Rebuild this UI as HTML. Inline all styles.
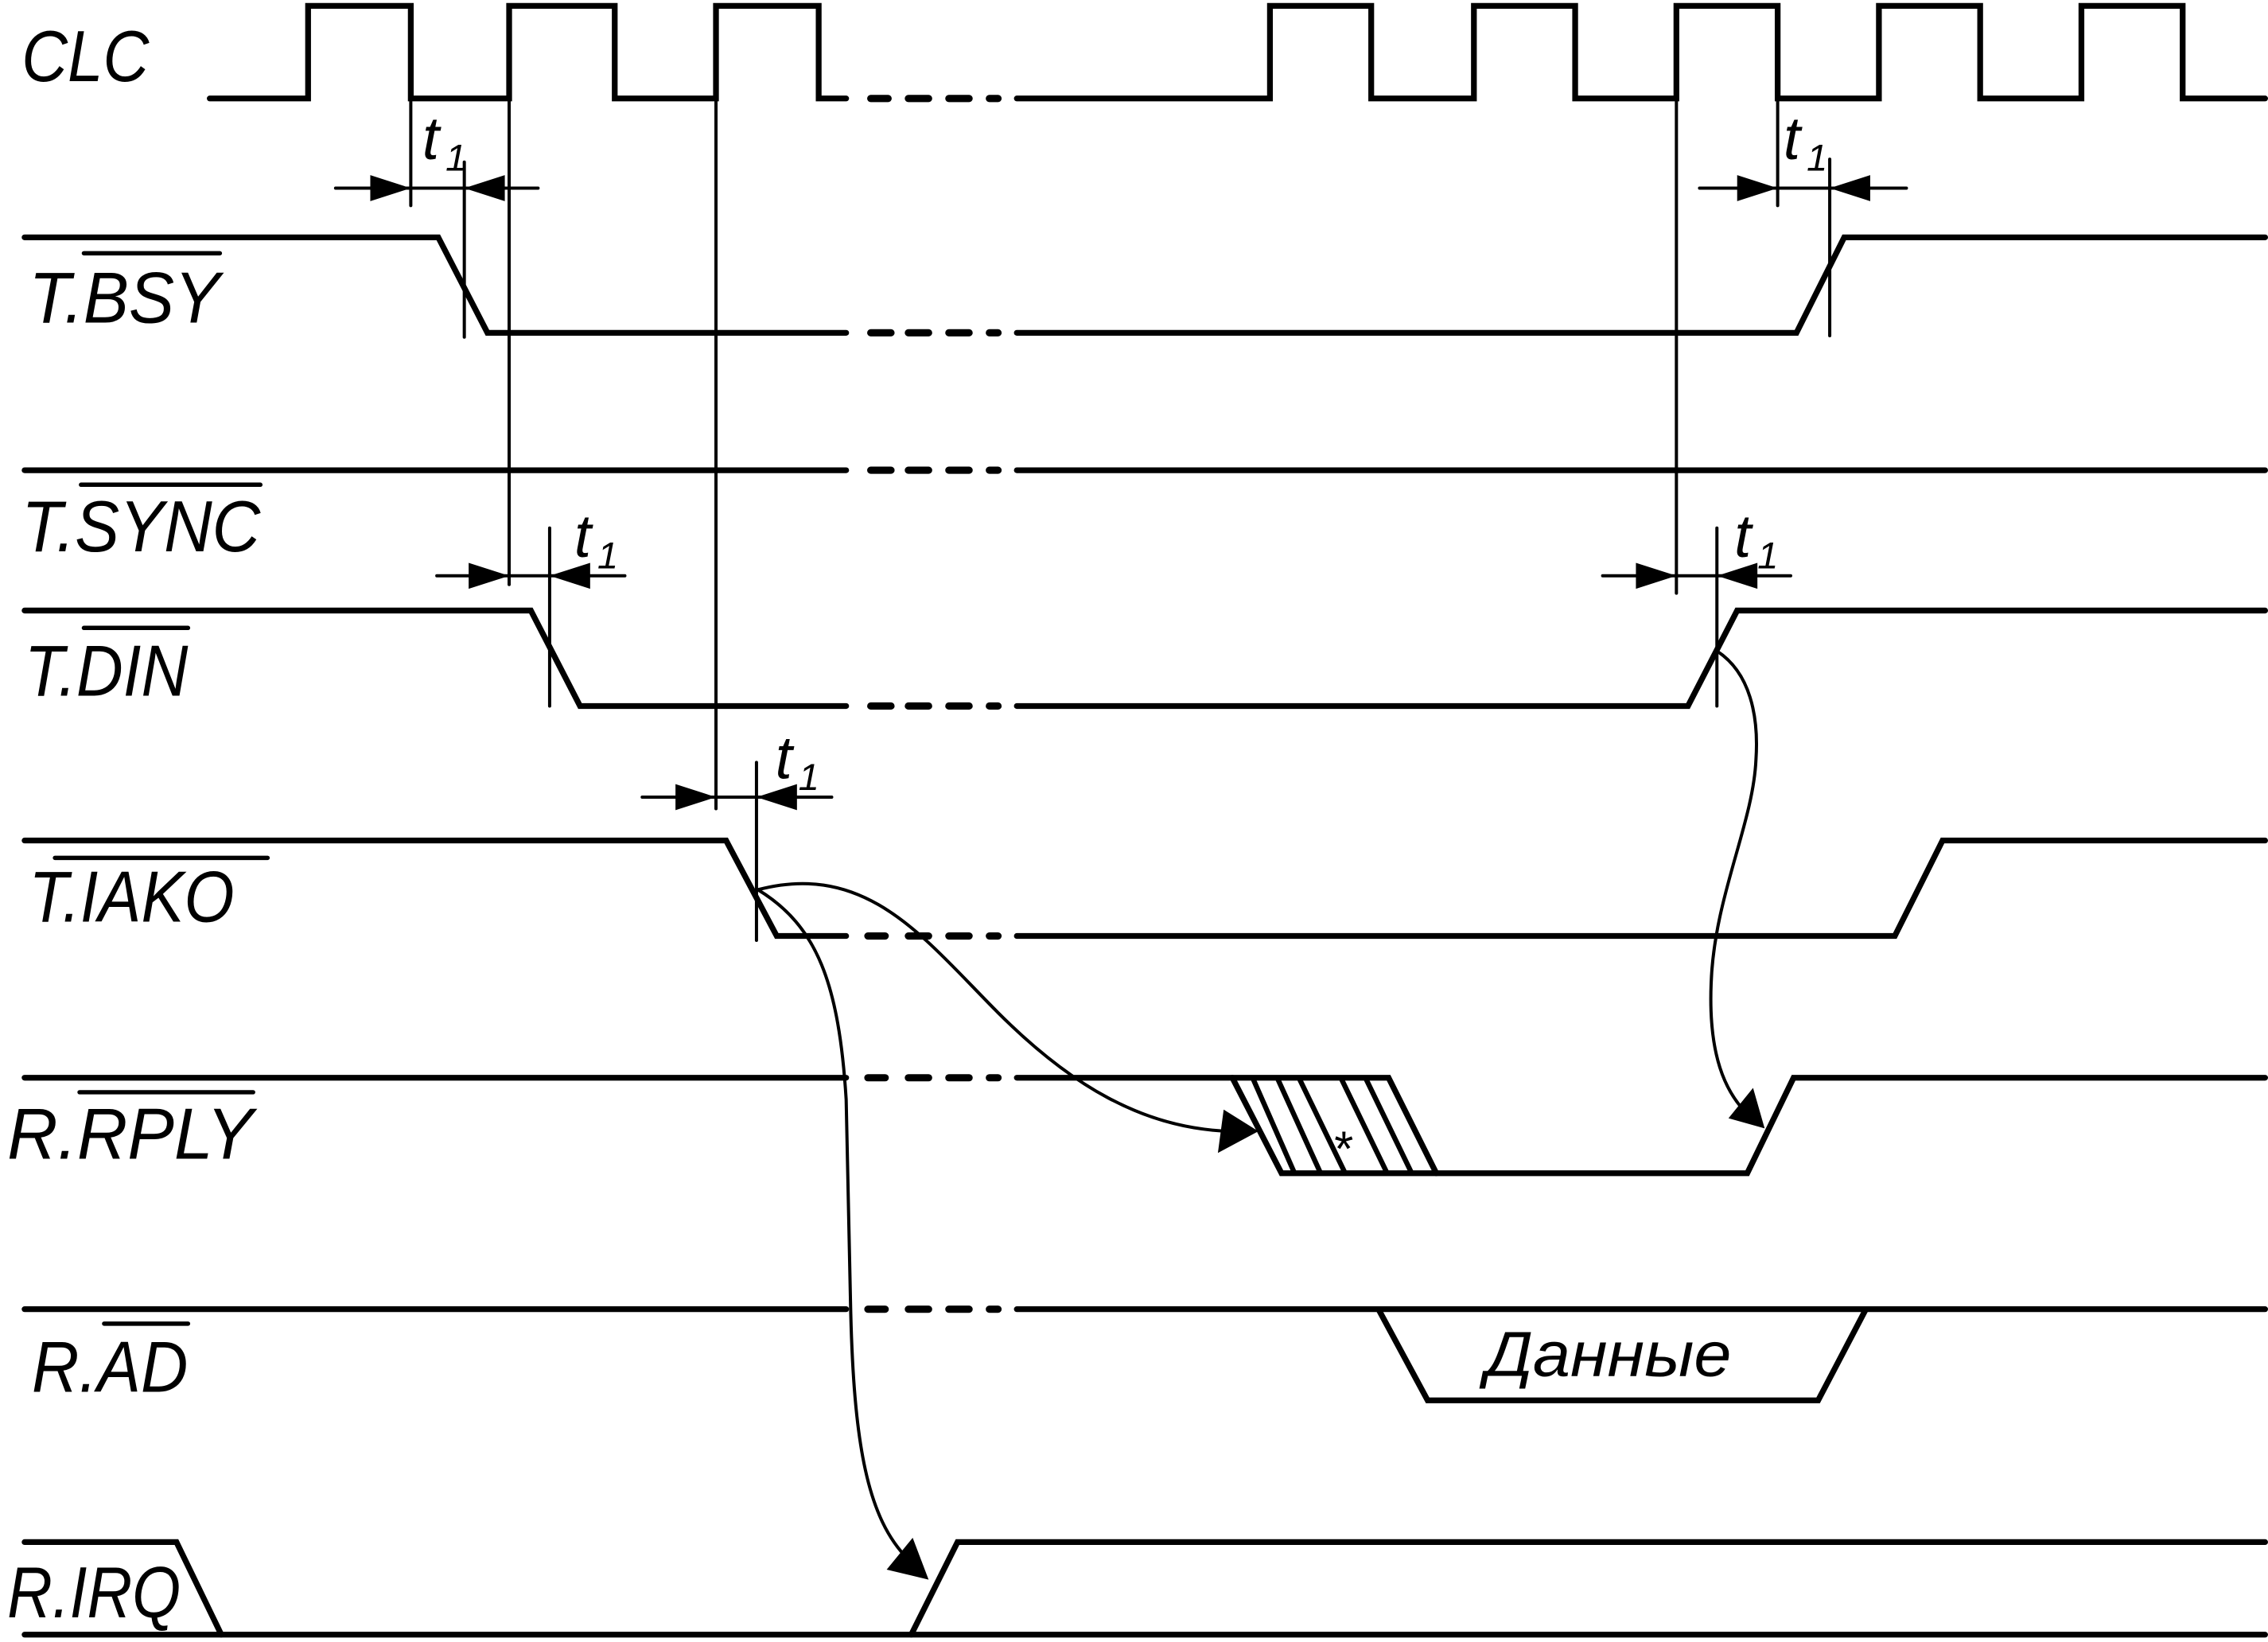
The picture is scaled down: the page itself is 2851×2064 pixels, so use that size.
<!DOCTYPE html>
<html><head><meta charset="utf-8"><style>
html,body{margin:0;padding:0;background:#fff;}
svg{display:block;}
text{font-family:"Liberation Sans","DejaVu Sans",sans-serif;font-style:italic;fill:#000;}
</style></head><body>
<svg width="2851" height="2064" viewBox="0 0 1568 1135" xmlns="http://www.w3.org/2000/svg">
<g fill="none" stroke="#000" stroke-width="4" stroke-linejoin="miter" stroke-linecap="round">
<polyline points="145,68 213,68 213,4 284,4 284,68 352,68 352,4 425,4 425,68 495,68 495,4 566,4 566,68 585,68"/>
<polyline points="703,68 878,68 878,4 948,4 948,68 1019,68 1019,4 1089,4 1089,68 1159,68 1159,4 1229,4 1229,68 1299,68 1299,4 1369,4 1369,68 1439,68 1439,4 1509,4 1509,68 1566,68"/>
<polyline points="17,164 303,164 337,230 585,230"/>
<polyline points="703,230 1242,230 1275,164 1566,164"/>
<polyline points="17,325 585,325"/><polyline points="703,325 1566,325"/>
<polyline points="17,422 367,422 401,488 585,488"/>
<polyline points="703,488 1167,488 1201,422 1566,422"/>
<polyline points="17,581 502,581 537,647 585,647"/>
<polyline points="703,647 1310,647 1343,581 1566,581"/>
<polyline points="17,745 585,745"/>
<polyline points="703,745 960,745 993,811"/>
<polyline points="852,745 886,811 1208,811 1240,745 1566,745"/>
<polyline points="17,905 585,905"/>
<polyline points="703,905 1566,905"/>
<polyline points="953,905 987,968 1257,968 1290,905"/>
<polyline points="17,1066 122,1066 153,1130"/>
<polyline points="17,1130 1566,1130"/>
<polyline points="630,1130 662,1066 1566,1066"/>
<g stroke-width="5">
<path d="M602,68h12M628,68h14M656,68h14M684,68h6"/>
<path d="M602,230h14M628,230h14M656,230h14M684,230h6"/>
<path d="M602,325h14M628,325h14M656,325h14M684,325h6"/>
<path d="M602,488h14M628,488h14M656,488h14M684,488h6"/>
<path d="M600,647h12M628,647h14M656,647h14M684,647h6"/>
<path d="M600,745h12M628,745h14M656,745h14M684,745h6"/>
<path d="M600,905h12M628,905h14M656,905h14M684,905h6"/>
</g>
</g>
<g stroke="#000" stroke-width="3.5" fill="none">
<line x1="866" y1="745" x2="895" y2="811"/>
<line x1="883" y1="745" x2="913" y2="811"/>
<line x1="898" y1="745" x2="930" y2="811"/>
<line x1="927" y1="745" x2="959" y2="811"/>
<line x1="944" y1="745" x2="976" y2="811"/>
</g>
<text x="921" y="806" font-size="34" font-style="normal">*</text>
<g stroke="#000" stroke-width="2.2" fill="none" stroke-linecap="round">
<line x1="284" y1="68" x2="284" y2="142"/>
<line x1="321" y1="112" x2="321" y2="233"/>
<line x1="352" y1="68" x2="352" y2="404"/>
<line x1="380" y1="365" x2="380" y2="488"/>
<line x1="495" y1="68" x2="495" y2="559"/>
<line x1="523" y1="527" x2="523" y2="650"/>
<line x1="1159" y1="68" x2="1159" y2="410"/>
<line x1="1187" y1="365" x2="1187" y2="488"/>
<line x1="1229" y1="68" x2="1229" y2="142"/>
<line x1="1265" y1="110" x2="1265" y2="232"/>
<line x1="232" y1="130" x2="372" y2="130"/>
<line x1="302" y1="398" x2="432" y2="398"/>
<line x1="444" y1="551" x2="575" y2="551"/>
<line x1="1175" y1="130" x2="1318" y2="130"/>
<line x1="1108" y1="398" x2="1238" y2="398"/>
<path d="M524,615 C600,595 640,650 690,700 C740,750 790,780 850,782"/>
<path d="M524,615 C565,640 580,680 585,760 L588,900 C590,1000 600,1050 628,1078"/>
<path d="M1187,450 C1210,465 1216,495 1214,525 C1212,570 1185,620 1183,680 C1181,730 1193,755 1208,770"/>
</g>
<g fill="#000">
<polygon points="284,130 256,121 256,139"/>
<polygon points="321,130 349,121 349,139"/>
<polygon points="352,398 324,389 324,407"/>
<polygon points="380,398 408,389 408,407"/>
<polygon points="495,551 467,542 467,560"/>
<polygon points="523,551 551,542 551,560"/>
<polygon points="1229,130 1201,121 1201,139"/>
<polygon points="1265,130 1293,121 1293,139"/>
<polygon points="1159,398 1131,389 1131,407"/>
<polygon points="1187,398 1215,389 1215,407"/>
<polygon points="870,782 846,767 842,797"/>
<polygon points="642,1092 631,1063 613,1085"/>
<polygon points="1220,780 1212,752 1195,773"/>
</g>
<g font-size="42">
<text x="292" y="110">t</text><text x="308" y="118" font-size="26">1</text>
<text x="397" y="385">t</text><text x="413" y="393" font-size="26">1</text>
<text x="536" y="538">t</text><text x="552" y="546" font-size="26">1</text>
<text x="1233" y="110">t</text><text x="1249" y="118" font-size="26">1</text>
<text x="1199" y="385">t</text><text x="1215" y="393" font-size="26">1</text>
</g>
<g font-size="50">
<text x="15" y="56" textLength="88" lengthAdjust="spacingAndGlyphs">CLC</text>
<text x="20" y="223" textLength="132" lengthAdjust="spacingAndGlyphs">T.BSY</text>
<text x="15" y="381" textLength="165" lengthAdjust="spacingAndGlyphs">T.SYNC</text>
<text x="17" y="481" textLength="113" lengthAdjust="spacingAndGlyphs">T.DIN</text>
<text x="20" y="637" textLength="142" lengthAdjust="spacingAndGlyphs">T.IAKO</text>
<text x="5" y="801" textLength="170" lengthAdjust="spacingAndGlyphs">R.RPLY</text>
<text x="22" y="962" textLength="108" lengthAdjust="spacingAndGlyphs">R.AD</text>
<text x="5" y="1118" textLength="120" lengthAdjust="spacingAndGlyphs">R.IRQ</text>
<text x="1027" y="951" font-size="44" textLength="170" lengthAdjust="spacingAndGlyphs">Данные</text>
</g>
<g stroke="#000" stroke-width="3" stroke-linecap="round">
<line x1="58" y1="175" x2="152" y2="175"/>
<line x1="56" y1="335" x2="180" y2="335"/>
<line x1="58" y1="434" x2="130" y2="434"/>
<line x1="38" y1="593" x2="185" y2="593"/>
<line x1="55" y1="755" x2="175" y2="755"/>
<line x1="72" y1="915" x2="130" y2="915"/>
</g>
</svg>
</body></html>
